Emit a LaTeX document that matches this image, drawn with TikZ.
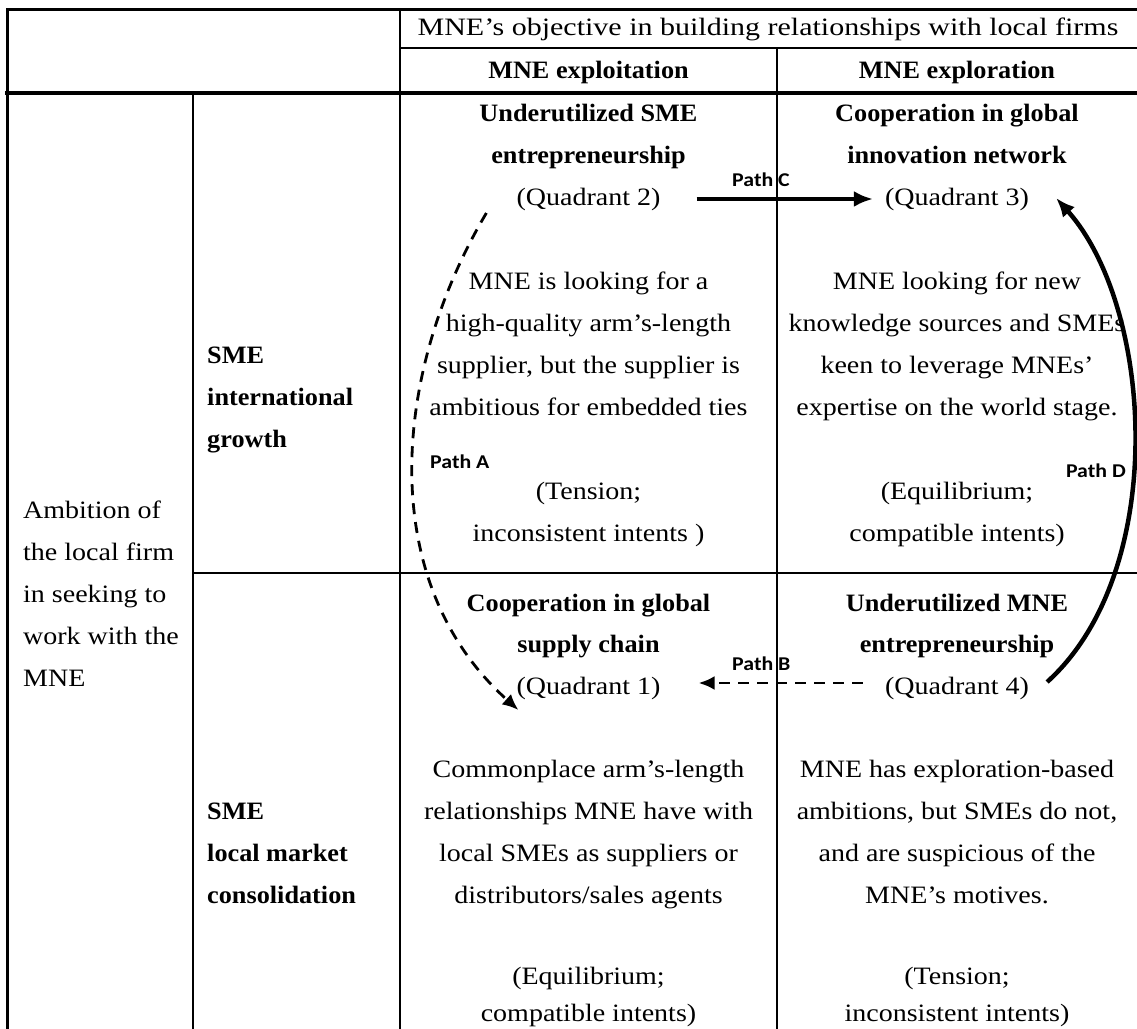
\documentclass[tikz,border=0pt]{standalone}
\usepackage{fontspec}
\setmainfont{Liberation Serif}[FakeStretch=1.12, BoldFeatures={FakeStretch=1.05}]
\newfontfamily\hdrfont{Liberation Serif}[FakeStretch=1.2]
\newfontfamily\pathfont{Carlito}[FakeStretch=1.12]
\usetikzlibrary{arrows.meta,calc}
\begin{document}
\begin{tikzpicture}[x=1pt,y=-1pt,
  txt/.style={inner sep=0pt, anchor=base, font=\fontsize{25}{30}\selectfont},
  btxt/.style={inner sep=0pt, anchor=base, font=\fontsize{25}{30}\selectfont\bfseries},
  ltxt/.style={txt, anchor=base west},
  lbtxt/.style={btxt, anchor=base west},
  plabel/.style={inner sep=0pt, font=\pathfont\bfseries\fontsize{19.5}{22}\selectfont},
  rule/.style={line width=#1, line cap=rect},
  solidpath/.style={line width=4.5pt, -{Latex[length=19pt,width=16pt]}},
  dashpath/.style={line width=2.8pt, dash pattern=on 11pt off 8pt, -{Latex[length=16pt,width=14pt]}}]
\fill[white] (0,0) rectangle (1137,1028);
\useasboundingbox (0,0) rectangle (1137,1028);
% table rules
\draw[rule=3pt] (7,1040) -- (7,9) -- (1140,9);
\draw[rule=2pt] (400,48) -- (1140,48);
\draw[rule=3.3pt] (7,93) -- (1140,93);
\draw[rule=2.5pt] (193,93) -- (193,1040);
\draw[rule=2.5pt] (400,9) -- (400,1040);
\draw[rule=2.2pt] (777,48) -- (777,1040);
\draw[rule=2.5pt] (193,573) -- (1140,573);
% header
\node[txt, font=\hdrfont\fontsize{25}{30}\selectfont] (hdr) at (768,35) {MNE’s objective in building relationships with local firms};
\node[btxt] (hexploit) at (588.5,78) {MNE exploitation};
\node[btxt] (hexplore) at (957,78) {MNE exploration};
% left column
\node[ltxt] (amb1) at (23,518) {Ambition of};
\node[ltxt] (amb2) at (23,560) {the local firm};
\node[ltxt] (amb3) at (23,602) {in seeking to};
\node[ltxt] (amb4) at (23,644) {work with the};
\node[ltxt] (amb5) at (23,686) {MNE};
\node[lbtxt] (up1) at (207,363) {SME};
\node[lbtxt] (up2) at (207,405) {international};
\node[lbtxt] (up3) at (207,447) {growth};
\node[lbtxt] (lo1) at (207,819.5) {SME};
\node[lbtxt] (lo2) at (207,861) {local market};
\node[lbtxt] (lo3) at (207,903) {consolidation};
% Quadrant 2
\node[btxt] (q2a) at (588.5,121) {Underutilized SME};
\node[btxt] (q2b) at (588.5,163) {entrepreneurship};
\node[txt] (q2c) at (588.5,205) {(Quadrant 2)};
\node[txt] (q2d) at (588.5,289) {MNE is looking for a};
\node[txt] (q2e) at (588.5,331) {high-quality arm’s-length};
\node[txt] (q2f) at (588.5,373) {supplier, but the supplier is};
\node[txt] (q2g) at (588.5,415) {ambitious for embedded ties};
\node[txt] (q2h) at (588.5,499) {(Tension;};
\node[txt] (q2i) at (588.5,541) {inconsistent intents )};
% Quadrant 3
\node[btxt] (q3a) at (957,121) {Cooperation in global};
\node[btxt] (q3b) at (957,163) {innovation network};
\node[txt] (q3c) at (957,205) {(Quadrant 3)};
\node[txt] (q3d) at (957,289) {MNE looking for new};
\node[txt] (q3e) at (957,331) {knowledge sources and SMEs};
\node[txt] (q3f) at (957,373) {keen to leverage MNEs’};
\node[txt] (q3g) at (957,415) {expertise on the world stage.};
\node[txt] (q3h) at (957,499) {(Equilibrium;};
\node[txt] (q3i) at (957,541) {compatible intents)};
% Quadrant 1
\node[btxt] (q1a) at (588.5,611) {Cooperation in global};
\node[btxt] (q1b) at (588.5,652.5) {supply chain};
\node[txt] (q1c) at (588.5,694) {(Quadrant 1)};
\node[txt] (q1d) at (588.5,777.5) {Commonplace arm’s-length};
\node[txt] (q1e) at (588.5,819.5) {relationships MNE have with};
\node[txt] (q1f) at (588.5,861) {local SMEs as suppliers or};
\node[txt] (q1g) at (588.5,903) {distributors/sales agents};
\node[txt] (q1h) at (588.5,984) {(Equilibrium;};
\node[txt] (q1i) at (588.5,1021) {compatible intents)};
% Quadrant 4
\node[btxt] (q4a) at (957,611) {Underutilized MNE};
\node[btxt] (q4b) at (957,652.5) {entrepreneurship};
\node[txt] (q4c) at (957,694) {(Quadrant 4)};
\node[txt] (q4d) at (957,777.5) {MNE has exploration-based};
\node[txt] (q4e) at (957,819.5) {ambitions, but SMEs do not,};
\node[txt] (q4f) at (957,861) {and are suspicious of the};
\node[txt] (q4g) at (957,903) {MNE’s motives.};
\node[txt] (q4h) at (957,984) {(Tension;};
\node[txt] (q4i) at (957,1021) {inconsistent intents)};
% paths
\draw[solidpath] ($(q2c.east)+(36,0)$) -- ($(q3c.west)+(-12,0)$);
\draw[dashpath] ($(q4c.west)+(-22,-5)$) -- ($(q1c.east)+(38,-5)$);
\draw[dashpath] ($(q2c.west)+(-30,14)$) .. controls +(-95,160) and +(-143,-128) .. ($(q1c.west)+(2,22)$);
\draw[solidpath] ($(q4c.east)+(18,-6)$) .. controls +(122,-110) and +(98,110) .. ($(q3c.east)+(27,-1)$);
% path labels
\node[plabel, anchor=base west] (pC) at (732,186) {Path C};
\node[plabel, anchor=base west] (pB) at (732,670) {Path B};
\node[plabel, anchor=base west] (pA) at (430,468) {Path A};
\node[plabel, anchor=base east] (pD) at (1126,477) {Path D};
\end{tikzpicture}
\end{document}
